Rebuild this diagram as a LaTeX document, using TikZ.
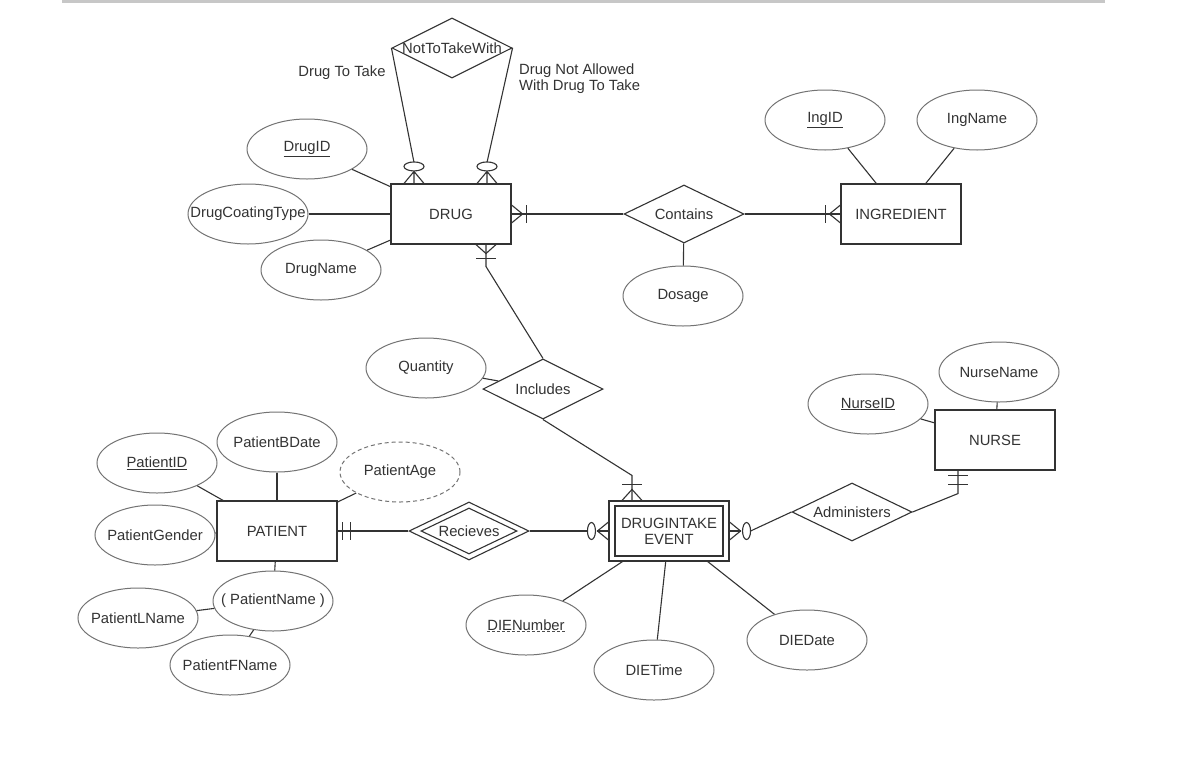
\documentclass[tikz,border=0pt]{standalone}
\usepackage{fontspec}
\setmainfont{Liberation Sans}
\usetikzlibrary{shapes.geometric,calc}
\newcommand{\zb}[1]{\makebox[0pt]{#1}}
\begin{document}
\begin{tikzpicture}[x=1pt,y=-1pt,
  every node/.style={font=\fontsize{14.8}{16}\selectfont, text=black!80},
  ent/.style={draw=black!80, line width=1.1pt, minimum width=120pt, minimum height=60pt, inner sep=0pt},
  entin/.style={draw=black!80, line width=1.1pt, minimum width=108pt, minimum height=50pt, inner sep=0pt, align=center},
  attr/.style={ellipse, draw=black!55, line width=1pt, minimum width=120pt, minimum height=60pt, inner sep=0pt},
  derived/.style={attr, dashed, dash pattern=on 4pt off 3pt},
  rel/.style={diamond, draw=black!80, line width=1.1pt, minimum width=120pt, minimum height=58pt, inner sep=0pt},
  relin/.style={diamond, draw=black!80, line width=1.1pt, minimum width=96pt, minimum height=46pt, inner sep=0pt},
  conn/.style={draw=black!80, line width=1.1pt},
  zcirc/.style={draw=black!80, line width=1.1pt, fill=white},
  plain/.style={inner sep=0pt},
]
\useasboundingbox (0,0) rectangle (1199,763);
\fill[white] (0,0) rectangle (1199,763);
\draw[black!22, line width=3pt] (62,1.5) -- (1105,1.5);

% entities
\node[ent] (drug) at (451,214) {DRUG};
\node[ent] (ing) at (901,214) {INGREDIENT};
\node[ent] (nurse) at (995,440) {NURSE};
\node[ent] (patient) at (277,531) {PATIENT};
\node[ent] (die) at (669,531) {};
\node[entin] (diein) at (669,531) {DRUGINTAKE\\EVENT};

% relationships
\node[rel, minimum height=60pt] (ntw) at (452,48) {\zb{NotToTakeWith}};
\node[rel] (contains) at (684,214) {\zb{Contains}};
\node[rel, minimum height=60pt] (includes) at (543,389) {\zb{Includes}};
\node[rel] (recv) at (469,531) {};
\node[relin] (recvin) at (469,531) {\zb{Recieves}};
\node[rel] (admin) at (852,512) {\zb{Administers}};

% attributes
\node[attr] (drugid) at (307,149) {\zb{\underline{DrugID}}};
\node[attr] (dct) at (248,214) {\zb{DrugCoatingType}};
\node[attr] (drugname) at (321,270) {\zb{DrugName}};
\node[attr] (dosage) at (683,296) {\zb{Dosage}};
\node[attr] (ingid) at (825,120) {\zb{\underline{IngID}}};
\node[attr] (ingname) at (977,120) {\zb{IngName}};
\node[attr] (quantity) at (426,368) {\zb{Quantity}};
\node[attr] (nursename) at (999,372) {\zb{NurseName}};
\node[attr] (nurseid) at (868,404) {\zb{\underline{NurseID}}};
\node[attr] (patientid) at (157,463) {\zb{\underline{PatientID}}};
\node[attr] (pbdate) at (277,442) {\zb{PatientBDate}};
\node[derived] (page) at (400,472) {\zb{PatientAge}};
\node[attr] (pgender) at (155,535) {\zb{PatientGender}};
\node[attr] (pname) at (273,601) {\zb{( PatientName )}};
\node[attr] (plname) at (138,618) {\zb{PatientLName}};
\node[attr] (pfname) at (230,665) {\zb{PatientFName}};
\node[attr] (dienum) at (526,625) {\zb{DIENumber}};
\node[attr] (dietime) at (654,670) {\zb{DIETime}};
\node[attr] (diedate) at (807,640) {\zb{DIEDate}};
\draw[black!70, line width=1pt, dash pattern=on 3pt off 2pt] ($(dienum.center)+(-39,6)$) -- ($(dienum.center)+(39,6)$);

% labels
\node[plain] (lbl1) at (342,73) {Drug To Take};
\node[plain, anchor=west, align=left] (lbl2) at (519,78.5) {Drug Not Allowed\\With Drug To Take};

% attribute connectors
\draw[conn] (drugid) -- (drug);
\draw[conn] (dct) -- (drug);
\draw[conn] (drugname) -- (drug);
\draw[conn] (ingid) -- (ing);
\draw[conn] (ingname) -- (ing);
\draw[conn] (dosage) -- (contains);
\draw[conn] (quantity) -- (includes);
\draw[conn] (nursename) -- (nurse);
\draw[conn] (nurseid) -- (nurse);
\draw[conn] (patientid) -- (patient);
\draw[conn] (pbdate) -- (patient);
\draw[conn] (page) -- (patient);
\draw[conn] (pgender) -- (patient);
\draw[conn] (pname) -- (patient);
\draw[conn] (plname) -- (pname);
\draw[conn] (pfname) -- (pname);
\draw[conn] (dienum) -- (die);
\draw[conn] (dietime) -- (die);
\draw[conn] (diedate) -- (die);

% NotToTakeWith -> DRUG (zero or many, twice)
\coordinate (d1) at ($(drug.north)+(-37,0)$);
\coordinate (d2) at ($(drug.north)+(36,0)$);
\draw[conn] (ntw.west) -- ($(d1)+(0,-21)$);
\draw[conn] (ntw.east) -- ($(d2)+(0,-21)$);
\foreach \p in {d1,d2}{
  \draw[conn] ($(\p)+(0,-12)$) -- ($(\p)+(-10,0)$)
              ($(\p)+(0,-12)$) -- (\p)
              ($(\p)+(0,-12)$) -- ($(\p)+(10,0)$);
  \draw[zcirc] ($(\p)+(0,-17)$) ellipse [x radius=10pt, y radius=4.5pt];
}

% DRUG -- Contains -- INGREDIENT (one or many on both)
\draw[conn] (drug.east) -- (contains.west);
\draw[conn] ($(drug.east)+(0,-9)$) -- ($(drug.east)+(11,0)$) -- ($(drug.east)+(0,9)$);
\draw[conn] ($(drug.east)+(15,-9)$) -- ($(drug.east)+(15,9)$);
\draw[conn] (contains.east) -- (ing.west);
\draw[conn] ($(ing.west)+(0,-9)$) -- ($(ing.west)+(-11,0)$) -- ($(ing.west)+(0,9)$);
\draw[conn] ($(ing.west)+(-15,-9)$) -- ($(ing.west)+(-15,9)$);

% DRUG -- Includes -- DRUGINTAKE EVENT
\coordinate (d3) at ($(drug.south)+(35,0)$);
\draw[conn] (d3) -- ($(d3)+(0,22)$) -- (includes.north);
\draw[conn] ($(d3)+(-10,0)$) -- ($(d3)+(0,9)$) -- ($(d3)+(10,0)$);
\draw[conn] ($(d3)+(-10,14)$) -- ($(d3)+(10,14)$);
\coordinate (e1) at ($(die.north)+(-37,0)$);
\draw[conn] (includes.south) -- ($(e1)+(0,-25)$) -- (e1);
\draw[conn] ($(e1)+(-10,0)$) -- ($(e1)+(0,-11)$) -- ($(e1)+(10,0)$);
\draw[conn] ($(e1)+(-10,-16)$) -- ($(e1)+(10,-16)$);

% PATIENT -- Recieves -- DRUGINTAKE EVENT
\draw[conn] (patient.east) -- (recv.west);
\draw[conn] ($(patient.east)+(5,-9)$) -- ($(patient.east)+(5,9)$);
\draw[conn] ($(patient.east)+(13,-9)$) -- ($(patient.east)+(13,9)$);
\draw[conn] (recv.east) -- ($(die.west)+(-21,0)$);
\draw[conn] ($(die.west)+(0,-9)$) -- ($(die.west)+(-11,0)$) -- ($(die.west)+(0,9)$);
\draw[conn] ($(die.west)+(-11,0)$) -- (die.west);
\draw[zcirc] ($(die.west)+(-17,0)$) ellipse [x radius=4pt, y radius=8.5pt];

% DRUGINTAKE EVENT -- Administers -- NURSE
\draw[conn] ($(die.east)+(0,-9)$) -- ($(die.east)+(11,0)$) -- ($(die.east)+(0,9)$);
\draw[conn] (die.east) -- ($(die.east)+(11,0)$);
\draw[conn] ($(die.east)+(21,0)$) -- (admin.west);
\draw[zcirc] ($(die.east)+(17,0)$) ellipse [x radius=4pt, y radius=8.5pt];
\coordinate (n1) at ($(nurse.south)+(-37,0)$);
\draw[conn] (admin.east) -- ($(n1)+(0,23)$) -- (n1);
\draw[conn] ($(n1)+(-10,5)$) -- ($(n1)+(10,5)$);
\draw[conn] ($(n1)+(-10,14)$) -- ($(n1)+(10,14)$);
\end{tikzpicture}
\end{document}
